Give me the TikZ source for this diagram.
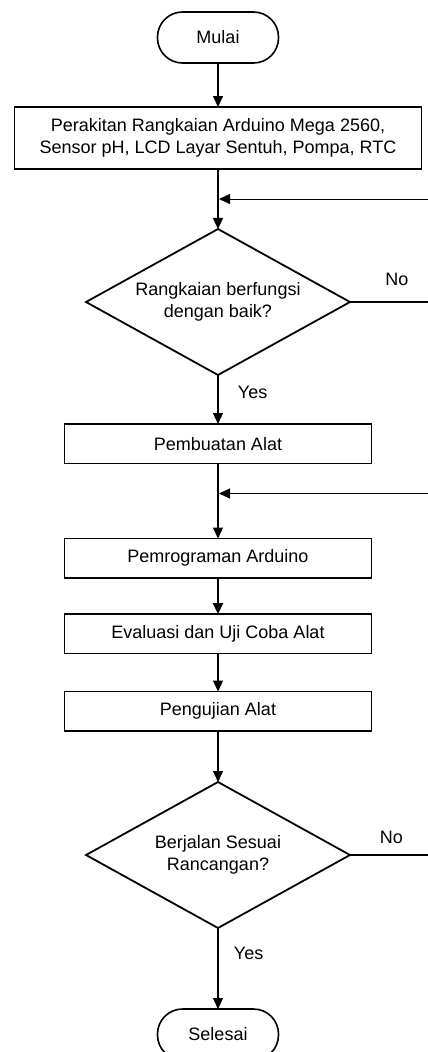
\documentclass[tikz,border=0pt]{standalone}
\usepackage{fontspec}
\setmainfont{Liberation Sans}
\usetikzlibrary{positioning,shapes.geometric,arrows.meta,calc}

\begin{document}
\begin{tikzpicture}[
  x=1pt, y=1pt,
  node distance=40pt,
  every node/.style={font=\fontsize{18}{21.5}\selectfont},
  term/.style={draw, line width=1.6pt, outer sep=0pt, rounded corners=25pt, minimum width=121pt, minimum height=51pt},
  box/.style={draw, line width=1.8pt, outer sep=0pt, align=center, minimum width=307pt, minimum height=39.5pt, inner sep=0pt},
  decision/.style={draw, diamond, line width=1.8pt, outer sep=0pt, align=center, aspect=1.8, minimum width=264pt, minimum height=146pt, inner sep=0pt},
  arrow/.style={-{Triangle[length=11pt, width=10pt]}, line width=1.2pt},
  line/.style={line width=1.2pt}
]

\path[fill=white, use as bounding box] (0,0) rectangle (428,-1052);

% Nodes
\node[term] (start) at (218,-37.5) {Mulai};
\node[box, minimum width=407pt, minimum height=62pt, below=44pt of start] (rakit) {Perakitan Rangkaian Arduino Mega 2560,\\ Sensor pH, LCD Layar Sentuh, Pompa, RTC};
\node[decision, below=60pt of rakit] (cek) {Rangkaian berfungsi\\ dengan baik?};
\node[box, below=49pt of cek] (buat) {Pembuatan Alat};
\node[box, below=75pt of buat] (program) {Pemrograman Arduino};
\node[box, below=36pt of program] (evaluasi) {Evaluasi dan Uji Coba Alat};
\node[box, below=38pt of evaluasi] (uji) {Pengujian Alat};
\node[decision, below=51pt of uji] (sesuai) {Berjalan Sesuai\\ Rancangan?};
\node[term, below=81pt of sesuai] (finish) {Selesai};

% Feedback points
\coordinate (rim) at (428,0);
\coordinate (balik1) at ($(rakit.south)!0.5!(cek.north)$);
\coordinate (balik2) at ($(buat.south)!0.4!(program.north)$);

% Arrows
\draw[arrow] (start) -- (rakit);
\draw[arrow] (rakit) -- (cek);
\draw[arrow, line width=1pt, shorten >=1pt] (balik1 -| rim) -- (balik1);
\draw[line] (cek.east) -- node[pos=0.6, above=12pt] {No} (cek.east -| rim);
\draw[arrow] (cek) -- node[pos=0.35, right=16pt] {Yes} (buat);

\draw[arrow] (buat) -- (program);
\draw[arrow, line width=1pt, shorten >=1pt] (balik2 -| rim) -- (balik2);
\draw[arrow, line width=2.6pt] (program) -- (evaluasi);
\draw[arrow] (evaluasi) -- (uji);
\draw[arrow] (uji) -- (sesuai);

\draw[line] (sesuai.east) -- node[pos=0.53, above=7pt] {No} (sesuai.east -| rim);
\draw[arrow] (sesuai) -- node[pos=0.31, right=12pt] {Yes} (finish);
\end{tikzpicture}
\end{document}
